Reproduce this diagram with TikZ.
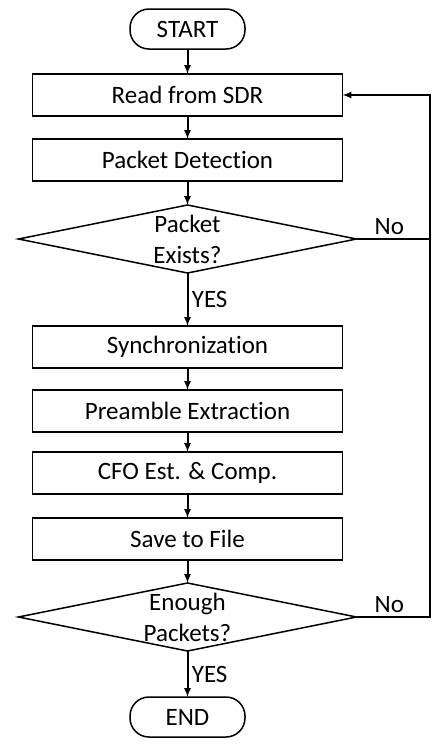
\documentclass[tikz,border=0pt]{standalone}
\usepackage{fontspec}
\setmainfont{Carlito}[Ligatures=NoCommon]
\usetikzlibrary{arrows,%
	positioning,%
	shapes.geometric}

\begin{document}
\begin{tikzpicture}[x=1pt,y=1pt,node distance=23pt,line width=1.5pt,font=\fontsize{25}{31}\selectfont,
	term node/.style={rectangle,draw,rounded corners=19pt,minimum width=115pt,minimum height=40pt,inner sep=0pt,outer sep=0pt},
	main node/.style={rectangle,draw,minimum width=310pt,minimum height=42pt,inner sep=0pt,outer sep=0pt},
	test node/.style={diamond,draw,minimum width=338pt,minimum height=68pt,inner sep=0pt,outer sep=0pt,aspect=5},
	flow/.style={line width=2pt,-latex}]
		\useasboundingbox (0,0) rectangle (435,-745);
		\node[term node] (start) at (187.5,-29) {START};
		\node[main node] (read) [below=25pt of start] {Read from SDR};
		\node[main node] (detect) [below=of read] {Packet Detection};
		\node[test node] (exists) [below=24pt of detect,label={[align=center]center:{Packet\\Exists?}}] {};
		\node[main node] (sync) [below=53pt of exists] {Synchronization};
		\node[main node] (pre) [below=22pt of sync] {Preamble Extraction};
		\node[main node] (cfo) [below=20pt of pre] {CFO Est. \& Comp.};
		\node[main node] (save) [below=24pt of cfo] {Save to File};
		\node[test node] (enough) [below=of save,label={[align=center]center:{Enough\\Packets?}}] {};
		\node[term node] (end) [below=46pt of enough] {END};
		\coordinate (c1) at ([xshift=73pt]exists.east);
		\coordinate (c2) at ([xshift=73pt]enough.east);
		\path[every edge/.style={draw,flow}]
		(start) edge (read)
		(read) edge (detect)
		(detect) edge (exists)
		(exists) edge node[right] {YES} (sync)
		(sync) edge (pre)
		(pre) edge (cfo)
		(cfo) edge (save)
		(save) edge (enough)
		(enough) edge node[right] {YES} (end);
		\draw[line width=2pt] (exists.east) -- node[above,pos=0.45] {No} (c1);
		\draw[flow] (enough.east) -- node[above,pos=0.45] {No} (c2) |- (read.east);
		\end{tikzpicture}
\end{document}
